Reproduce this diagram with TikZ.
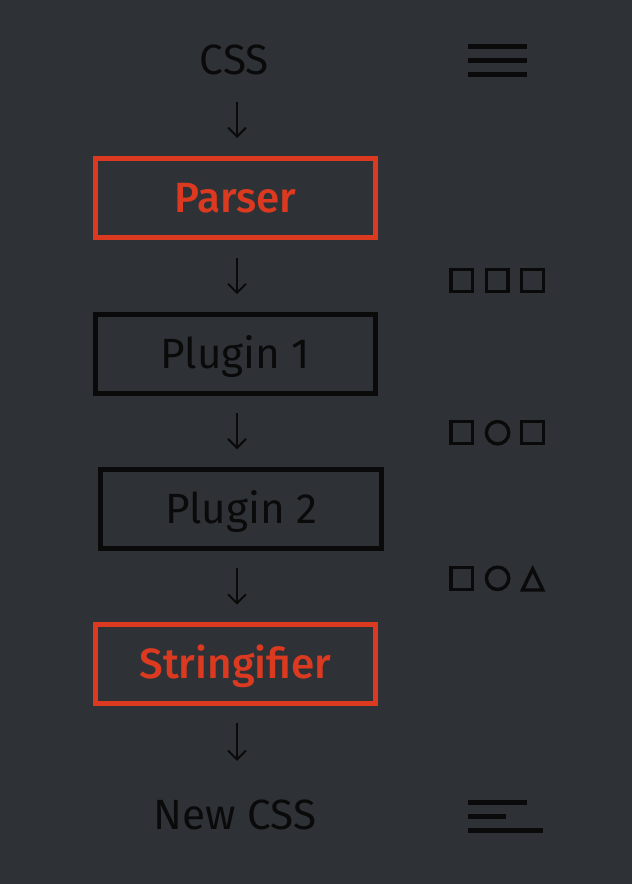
\documentclass[tikz,border=0pt]{standalone}
\usepackage{fontspec}
\setmainfont{Fira Sans}
\newfontfamily\medfont{Fira Sans Medium}
\usetikzlibrary{arrows.meta}
\definecolor{bg}{HTML}{2E3236}
\definecolor{accent}{HTML}{DC3A20}
\definecolor{ink}{HTML}{0A0A0A}
\begin{document}
\begin{tikzpicture}[x=1bp,y=-1bp,
  txt/.style={font=\fontsize{42.3bp}{50bp}\selectfont, text=ink, inner sep=0pt, text height=29.4bp, text depth=0pt},
  box/.style={txt, draw=ink, line width=5bp, minimum width=280.3bp, minimum height=79bp},
  redbox/.style={box, draw=accent, text=accent, font=\fontsize{42.3bp}{50bp}\selectfont\medfont},
  arr/.style={draw=ink, line width=2bp, -{Straight Barb[length=9bp,width=18bp,line width=2bp]}, shorten <=17.5bp, shorten >=17.5bp},
  icon/.style={draw=ink, line width=3.4bp},
  bar/.style={draw=ink, line width=4.7bp}
]
\fill[bg] (0,0) rectangle (632,884);
\useasboundingbox (0,0) rectangle (632,884);

\node[txt] (css) at (234.3,60) {CSS};
\node[redbox] (parser) at (235.4,198) {Parser};
\node[box] (p1) at (235.4,353.7) {Plugin 1};
\node[box] (p2) at (241.1,508.8) {Plugin 2};
\node[redbox] (str) at (235.4,664.2) {Stringifier};
\node[txt] (new) at (235,814.3) {New CSS};

\coordinate (ax) at (237,0);
\draw[arr, shorten <=27bp, shorten >=18bp] (css.south -| ax) -- (parser.north -| ax);
\draw[arr] (parser.south -| ax) -- (p1.north -| ax);
\draw[arr] (p1.south -| ax) -- (p2.north -| ax);
\draw[arr] (p2.south -| ax) -- (str.north -| ax);
\draw[arr, shorten <=16.5bp, shorten >=38.5bp] (str.south -| ax) -- (new.north -| ax);

% top icon
\draw[bar] (467.7,46.7) -- (526.7,46.7);
\draw[bar] (467.7,60.7) -- (526.7,60.7);
\draw[bar] (467.7,74.3) -- (526.7,74.3);
% bottom icon
\draw[bar] (467.7,802.7) -- (526.7,802.7);
\draw[bar] (467.7,816.7) -- (506,816.7);
\draw[bar] (467.7,830.7) -- (543.3,830.7);

% row 1
\draw[icon] (450.9,269.5) rectangle ++(21.8,22);
\draw[icon] (486.2,269.5) rectangle ++(21.8,22);
\draw[icon] (521.7,269.5) rectangle ++(21.8,22);
% row 2
\draw[icon] (450.9,421.7) rectangle ++(21.8,22);
\draw[icon] (497.6,432.7) circle (11.2bp);
\draw[icon] (521.7,421.7) rectangle ++(21.8,22);
% row 3
\draw[icon] (450.9,567.3) rectangle ++(21.8,22);
\draw[icon] (497.6,578.3) circle (11.2bp);
\draw[icon] (522.5,590) -- (542.8,590) -- (532.7,568.9) -- cycle;
\end{tikzpicture}
\end{document}
